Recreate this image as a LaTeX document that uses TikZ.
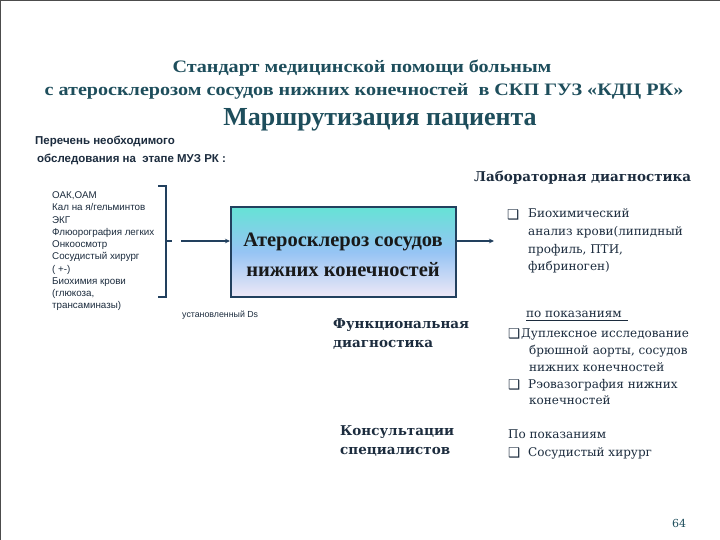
\documentclass[tikz,border=0pt]{standalone}
\usepackage{fontspec}
\setmainfont{Liberation Serif}
\newfontfamily\tnr{Liberation Serif}
\newfontfamily\tnrw[FakeStretch=1.15]{Liberation Serif}
\newfontfamily\cam{DejaVu Serif}
\newfontfamily\tah{Liberation Sans}
\newfontfamily\symf{DejaVu Sans}
\usetikzlibrary{arrows.meta}
\definecolor{tealT}{HTML}{1E4E5C}
\definecolor{navyT}{HTML}{1C2C3E}
\definecolor{boxline}{HTML}{22405E}
\definecolor{gtop}{HTML}{66E2D6}
\definecolor{gmid}{HTML}{96C4F4}
\definecolor{gbot}{HTML}{EEE8F6}
\begin{document}
\begin{tikzpicture}[x=1pt,y=-1pt,
  title/.style={font=\tnrw\bfseries\fontsize{17.5}{20}\selectfont, text=tealT, anchor=base, inner sep=0},
  bigtitle/.style={font=\tnr\bfseries\fontsize{26}{28}\selectfont, text=tealT, anchor=base, inner sep=0},
  hsans/.style={font=\tah\bfseries\fontsize{11.5}{13}\selectfont, text=navyT, anchor=base west, inner sep=0},
  lsans/.style={font=\tah\fontsize{9.8}{11}\selectfont, text=navyT, anchor=base west, inner sep=0},
  bhead/.style={font=\cam\bfseries\fontsize{13.5}{15}\selectfont, text=navyT, anchor=base west, inner sep=0},
  body/.style={font=\cam\fontsize{12}{14}\selectfont, text=navyT, anchor=base west, inner sep=0},
  bul/.style={font=\symf\fontsize{13.5}{15}\selectfont, text=navyT, anchor=base west, inner sep=0},
  boxtxt/.style={font=\tnr\bfseries\fontsize{20.5}{22}\selectfont, text=black!90, anchor=base, inner sep=0},
  conn/.style={draw=boxline, line width=1.3pt},
  arr/.style={conn, -{Stealth[length=5pt,width=4.5pt]}}
]
\fill[white] (0,0) rectangle (720,540);
\useasboundingbox (0,0) rectangle (720,540);
\draw[black!70, line width=1pt] (0.5,540) -- (0.5,0.5) -- (720,0.5);

% titles
\node[title] (t1) at (362,72.5) {Стандарт медицинской помощи больным};
\node[title] (t2) at (364,96) {с атеросклерозом сосудов нижних конечностей \ в СКП ГУЗ «КДЦ РК»};
\node[bigtitle] (t3) at (380,126) {Маршрутизация пациента};

% left heading
\node[hsans] (h1) at (35,145) {Перечень необходимого};
\node[hsans] (h2) at (37,163) {обследования на \ этапе МУЗ РК :};

% left list
\node[lsans] (l1) at (52,199) {ОАК,ОАМ};
\node[lsans] (l2) at (52,211) {Кал на я/гельминтов};
\node[lsans] (l3) at (52,223) {ЭКГ};
\node[lsans] (l4) at (52,235.5) {Флюорография легких};
\node[lsans] (l5) at (52,247.5) {Онкоосмотр};
\node[lsans] (l6) at (52,259.5) {Сосудистый хирург};
\node[lsans] (l7) at (52,272) {( +-)};
\node[lsans] (l8) at (52,284) {Биохимия крови};
\node[lsans] (l9) at (52,296) {(глюкоза,};
\node[lsans] (l10) at (52,308) {трансаминазы)};

% brace
\coordinate (bt) at (166,186);
\coordinate (bb) at (166,297);
\coordinate (bm) at (166,241);
\draw[conn, line width=1.1pt] (158,186) -- (bt) -- (bb) -- (158,297);
\draw[conn, line width=1.1pt] (bm) -- (172,241);
\coordinate (as) at (181,241);

% main box
\node[draw=boxline, line width=2pt, top color=gtop, bottom color=gbot, middle color=gmid,
      minimum width=225pt, minimum height=89pt, inner sep=0] (box) at (343.5,252) {};
\node[boxtxt] (bx1) at (343,246) {Атеросклероз сосудов};
\node[boxtxt] (bx2) at (343,276) {нижних конечностей};
\draw[arr] (as) -- (box.west |- as);
\coordinate (ae) at (494,241);
\draw[arr] (box.east |- ae) -- (ae);

\node[font=\tah\fontsize{8.8}{10}\selectfont, text=navyT, anchor=base west, inner sep=0] (ds) at (182,317) {установленный Ds};

% lab diagnostics
\node[bhead] (lab) at (474,182) {Лабораторная диагностика};
\node[bul] (b1) at (507,219) {❑};
\node[body] (lb1) at (528,218) {Биохимический};
\node[body] (lb2) at (528,236) {анализ крови(липидный};
\node[body] (lb3) at (528,253) {профиль, ПТИ,};
\node[body] (lb4) at (528,270) {фибриноген)};

% functional diagnostics
\node[bhead] (fd1) at (333,328) {Функциональная};
\node[bhead] (fd2) at (333,347) {диагностика};
\node[body] (fp) at (526,317) {по показаниям};
\draw[navyT, line width=0.8pt] (fp.south west |- 0,320) -- (628,320);
\node[bul] (b2) at (508,338) {❑};
\node[body] (f1) at (521,337) {Дуплексное исследование};
\node[body] (f2) at (529,354) {брюшной аорты, сосудов};
\node[body] (f3) at (529,371) {нижних конечностей};
\node[bul] (b3) at (508,389) {❑};
\node[body] (f4) at (528,388) {Рэовазография нижних};
\node[body] (f5) at (529,404) {конечностей};

% consultations
\node[bhead] (c1) at (340,435) {Консультации};
\node[bhead] (c2) at (340,454) {специалистов};
\node[body] (cp) at (508,438) {По показаниям};
\node[bul] (b4) at (508,457) {❑};
\node[body] (cs) at (528,456) {Сосудистый хирург};

\node[font=\cam\fontsize{11}{12}\selectfont, text=tealT, anchor=base west, inner sep=0] (pg) at (672,527) {64};
\end{tikzpicture}
\end{document}
